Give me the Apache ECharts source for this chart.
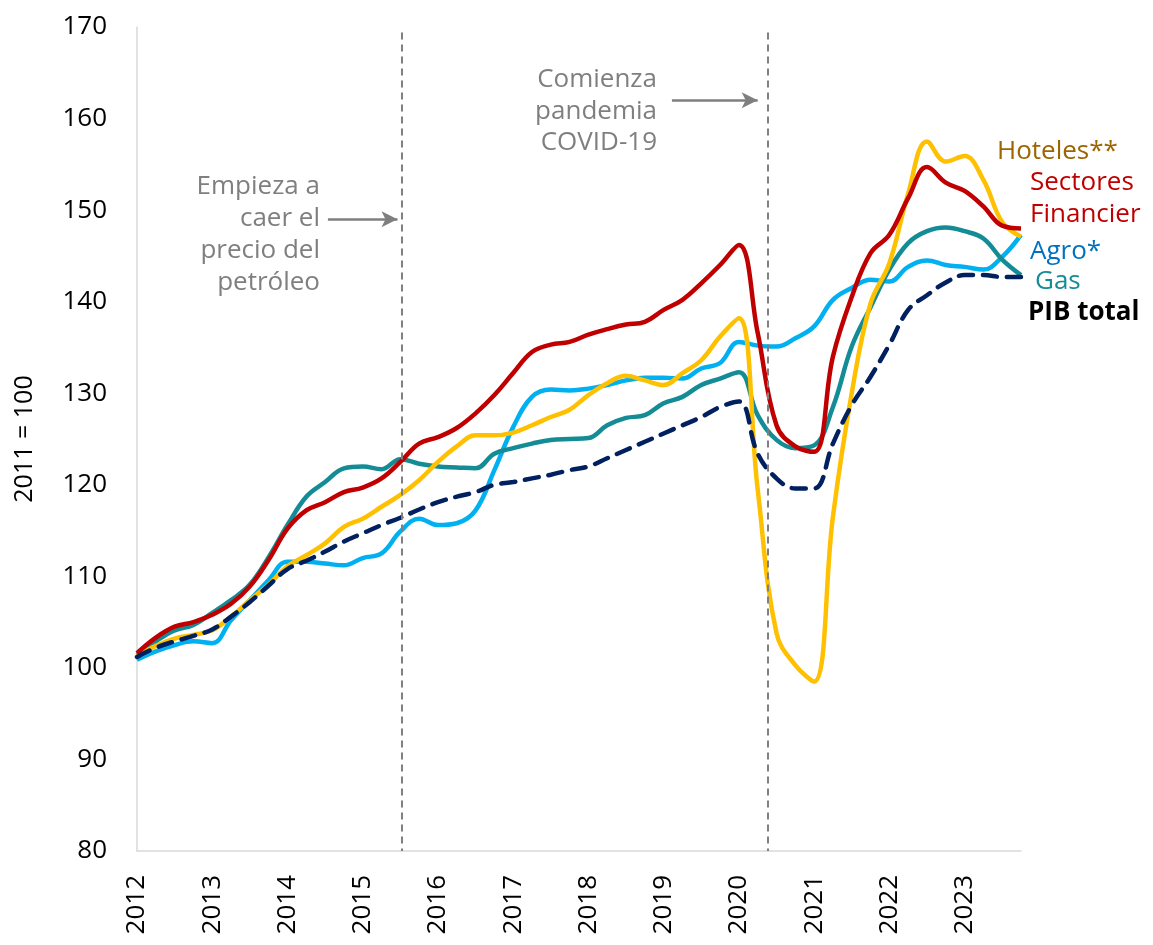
<!DOCTYPE html>
<html>
<head>
<meta charset="utf-8">
<title>Sectores 2011 = 100</title>
<script src="https://cdn.jsdelivr.net/npm/echarts@6/dist/echarts.min.js"></script>
<style>
html, body { margin: 0; padding: 0; background: #fff; }
#main { width: 1153px; height: 945px; }
</style>
</head>
<body>
<div id="main"></div>
<script>
// trimestres 2012T1 .. 2023T4
var quarters = [
    '2012T1','2012T2','2012T3','2012T4','2013T1','2013T2','2013T3','2013T4',
    '2014T1','2014T2','2014T3','2014T4','2015T1','2015T2','2015T3','2015T4',
    '2016T1','2016T2','2016T3','2016T4','2017T1','2017T2','2017T3','2017T4',
    '2018T1','2018T2','2018T3','2018T4','2019T1','2019T2','2019T3','2019T4',
    '2020T1','2020T2','2020T3','2020T4','2021T1','2021T2','2021T3','2021T4',
    '2022T1','2022T2','2022T3','2022T4','2023T1','2023T2','2023T3','2023T4'
];

var agro = [100.9, 101.8, 102.5, 102.9, 102.7, 105.2, 107.4, 109.6, 111.6, 111.6, 111.4, 111.2,
    112.0, 112.5, 114.9, 116.3, 115.6, 115.8, 117.2, 121.6, 126.3, 129.6, 130.4, 130.3,
    130.5, 130.9, 131.4, 131.7, 131.7, 131.6, 132.7, 133.3, 135.6, 135.2, 135.1, 136.0,
    137.3, 140.2, 141.5, 142.4, 142.2, 143.8, 144.5, 144.0, 143.8, 143.5, 144.9, 147.3];

var gas = [101.4, 102.9, 104.1, 104.7, 106.0, 107.4, 109.1, 112.1, 115.6, 118.7, 120.3, 121.8,
    122.0, 121.7, 122.8, 122.3, 122.0, 121.9, 121.8, 123.4, 124.0, 124.5, 124.9, 125.0,
    125.1, 126.5, 127.3, 127.6, 128.9, 129.6, 130.9, 131.6, 132.3, 127.6, 124.9, 124.0,
    124.3, 128.5, 135.1, 139.4, 143.5, 146.4, 147.7, 148.1, 147.7, 146.9, 144.6, 142.9];

var hoteles = [101.3, 102.4, 103.2, 103.6, 104.1, 105.6, 107.4, 109.1, 111.1, 112.3, 113.6, 115.4,
    116.3, 117.6, 118.9, 120.5, 122.5, 124.2, 125.4, 125.4, 125.7, 126.5, 127.4, 128.2,
    129.8, 131.1, 131.9, 131.4, 130.9, 132.2, 133.6, 136.2, 138.2, 119.5, 103.8, 100.3,
    98.5, 116.5, 130.0, 139.8, 144.2, 151.8, 157.5, 155.3, 155.9, 153.3, 148.7, 147.1];

var financieros = [101.6, 103.3, 104.5, 105.0, 105.8, 107.0, 108.9, 111.8, 115.2, 117.2, 118.1, 119.2,
    119.7, 120.7, 122.5, 124.5, 125.2, 126.2, 127.8, 129.8, 132.2, 134.5, 135.3, 135.6,
    136.4, 137.0, 137.5, 137.8, 139.1, 140.2, 142.0, 144.0, 146.2, 136.6, 126.5, 124.2,
    123.6, 134.0, 140.5, 145.3, 147.3, 151.3, 154.7, 153.0, 152.1, 150.4, 148.3, 148.0];

var pib = [101.2, 102.2, 102.9, 103.5, 104.2, 105.6, 107.2, 109.0, 110.8, 111.7, 112.7, 113.8,
    114.7, 115.6, 116.4, 117.3, 118.1, 118.7, 119.2, 120.0, 120.3, 120.7, 121.1, 121.6,
    122.0, 122.9, 123.8, 124.7, 125.6, 126.5, 127.4, 128.5, 129.1, 123.4, 120.7, 119.6,
    119.6, 124.5, 128.7, 131.8, 135.3, 139.1, 140.7, 142.1, 142.9, 142.9, 142.7, 142.7];

// posiciones (en trimestres) de los eventos marcados
var eventoPetroleo = 14.05;
var eventoCovid = 33.55;

var GRAY = '#7f7f7f';
var FONT = '"Open Sans", "Noto Sans", sans-serif';

function toPairs(values) {
    return values.map(function (v, i) { return [i, v]; });
}

function lineSeries(name, values, color, extra) {
    var s = {
        name: name,
        type: 'line',
        data: toPairs(values),
        smooth: 0.4,
        symbol: 'none',
        lineStyle: { color: color, width: 4.5 },
        emphasis: { disabled: true }
    };
    for (var k in extra) s[k] = extra[k];
    return s;
}

function showChart(chart) {
    var dashed = { color: GRAY, width: 2, type: [7, 5] };
    var arrow = { color: GRAY, width: 2.5, type: 'solid' };

    var series = [
        lineSeries('Agro*', agro, '#00b0f0'),
        lineSeries('Gas', gas, '#148c96'),
        lineSeries('Hoteles**', hoteles, '#ffc000'),
        lineSeries('Sectores Financieros', financieros, '#c00000'),
        lineSeries('PIB total', pib, '#002060', {
            lineStyle: { color: '#002060', width: 4.5, type: [14, 10], cap: 'round' },
            markLine: {
                silent: true,
                symbol: ['none', 'none'],
                label: { show: false },
                data: [
                    [{ coord: [eventoPetroleo, 169.4], lineStyle: dashed }, { coord: [eventoPetroleo, 80] }],
                    [{ coord: [eventoCovid, 169.4], lineStyle: dashed }, { coord: [eventoCovid, 80] }],
                    [{ coord: [10.15, 149.0], lineStyle: arrow, symbol: 'none' },
                     { coord: [13.85, 149.0], symbol: 'arrow', symbolSize: [12, 16] }],
                    [{ coord: [28.44, 162.0], lineStyle: arrow, symbol: 'none' },
                     { coord: [33.0, 162.0], symbol: 'arrow', symbolSize: [12, 16] }]
                ]
            }
        })
    ];

    var txt = function (x, y, text, color, opts) {
        var style = {
            text: text,
            fill: color,
            font: '26px ' + FONT,
            align: 'left',
            verticalAlign: 'middle'
        };
        for (var k in opts) style[k] = opts[k];
        return { type: 'text', x: x, y: y, style: style, silent: true };
    };

    var option = {
        backgroundColor: '#fff',
        animation: false,
        grid: { left: 137, right: 132, top: 27, bottom: 94 },
        xAxis: {
            type: 'value',
            min: 0,
            max: quarters.length - 1,
            interval: 4,
            splitLine: { show: false },
            axisTick: { show: false },
            axisLine: { show: true, lineStyle: { color: '#d9d9d9', width: 1.5 } },
            axisLabel: {
                rotate: 90,
                margin: 24,
                showMaxLabel: false,
                color: '#000',
                fontSize: 26,
                fontFamily: FONT,
                formatter: function (v) { return quarters[v] ? quarters[v].slice(0, 4) : ''; }
            }
        },
        yAxis: {
            type: 'value',
            min: 80,
            max: 170,
            interval: 10,
            name: '2011 = 100',
            nameLocation: 'middle',
            nameGap: 100,
            nameTextStyle: { color: '#000', fontSize: 25, fontFamily: FONT },
            splitLine: { show: false },
            axisTick: { show: false },
            axisLine: { show: true, lineStyle: { color: '#d9d9d9', width: 1.5 } },
            axisLabel: { margin: 30, color: '#000', fontSize: 26, fontFamily: FONT }
        },
        series: series,
        graphic: [
            txt(320, 171, 'Empieza a\ncaer el\nprecio del\npetróleo', GRAY,
                { align: 'right', verticalAlign: 'top', lineHeight: 32 }),
            txt(657, 64, 'Comienza\npandemia\nCOVID-19', GRAY,
                { align: 'right', verticalAlign: 'top', lineHeight: 31.5 }),
            txt(997, 152, 'Hoteles**', '#9c6500'),
            txt(1030, 183, 'Sectores', '#c00000'),
            txt(1030, 215, 'Financier', '#c00000'),
            txt(1030, 252, 'Agro*', '#0070c0'),
            txt(1035, 282, 'Gas', '#148c96'),
            txt(1028, 313, 'PIB total', '#000', { font: 'bold 26px ' + FONT })
        ]
    };
    chart.setOption(option);
}

var myChart = echarts.init(document.getElementById('main'));
showChart(myChart);
</script>
</body>
</html>
